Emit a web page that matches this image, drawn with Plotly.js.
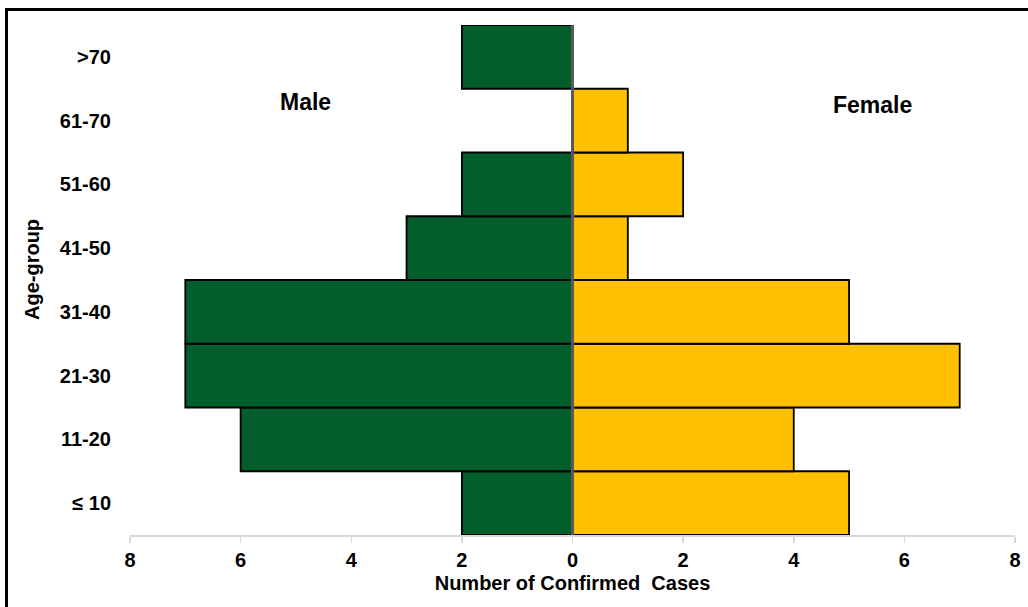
<!DOCTYPE html>
<html>
<head>
<meta charset="utf-8">
<script src="https://cdn.plot.ly/plotly-3.0.1.min.js"></script>
<style>
html,body{margin:0;padding:0;background:#fff;}
#chart{width:1028px;height:607px;}
#frame{position:absolute;left:5px;top:8px;width:1100px;height:700px;border-top:3px solid #000;border-left:3px solid #000;pointer-events:none;}
</style>
</head>
<body>
<div id="chart"></div>
<div id="frame"></div>
<script>
const ageGroups = ["≤ 10", "11-20", "21-30", "31-40", "41-50", "51-60", "61-70", ">70"];
const maleCases = [2, 6, 7, 7, 3, 2, 0, 2];
const femaleCases = [5, 4, 7, 5, 1, 2, 1, 0];
const tickValues = [-8, -6, -4, -2, 0, 2, 4, 6, 8];
const tickLabels = ["8", "6", "4", "2", "0", "2", "4", "6", "8"];

const FONT = "Liberation Sans, Arial, sans-serif";

const traces = [
  {
    type: "bar", orientation: "h", name: "Male",
    y: ageGroups, x: maleCases.map(v => -v),
    marker: {color: "#025E2B", line: {color: "#000", width: 1.8}},
    hoverinfo: "skip"
  },
  {
    type: "bar", orientation: "h", name: "Female",
    y: ageGroups, x: femaleCases,
    marker: {color: "#FFC000", line: {color: "#000", width: 1.8}},
    hoverinfo: "skip"
  }
];

const layout = {
  width: 1028, height: 607,
  margin: {l: 130, r: 13, t: 25, b: 72},
  paper_bgcolor: "#fff", plot_bgcolor: "#fff",
  showlegend: false,
  barmode: "relative", bargap: 0,
  font: {family: FONT, color: "#000"},
  xaxis: {
    range: [-8, 8], tickvals: tickValues, ticktext: tickLabels,
    showgrid: false, zeroline: false,
    showline: true, linecolor: "#d9d9d9", linewidth: 2,
    ticks: "outside", ticklen: 6, tickcolor: "#d9d9d9", tickwidth: 1.5,
    tickfont: {size: 20, family: FONT, weight: "bold"},
    title: {text: "Number of Confirmed  Cases", font: {size: 20, family: FONT, weight: "bold"}, standoff: 6}
  },
  yaxis: {
    type: "category", categoryorder: "array", categoryarray: ageGroups,
    showgrid: false, zeroline: false, showline: false,
    ticks: "outside", ticklen: 14, tickcolor: "rgba(0,0,0,0)",
    tickfont: {size: 20, family: FONT, weight: "bold"}
  },
  shapes: [
    {type: "line", xref: "x", yref: "paper", x0: 0, x1: 0, y0: 0, y1: 1,
     line: {color: "#595959", width: 3}, layer: "above"}
  ],
  annotations: [
    {text: "Age-group", xref: "paper", yref: "paper", x: -0.1107, y: 0.5196,
     xanchor: "center", yanchor: "middle", textangle: -90, showarrow: false,
     font: {size: 20, family: FONT, weight: "bold"}},
    {text: "Male", x: -4.82, y: 6.3, xref: "x", yref: "y", showarrow: false,
     font: {size: 23, family: FONT, weight: "bold"}},
    {text: "Female", x: 5.42, y: 6.24, xref: "x", yref: "y", showarrow: false,
     font: {size: 23, family: FONT, weight: "bold"}}
  ]
};

Plotly.newPlot("chart", traces, layout, {displayModeBar: false, staticPlot: true});
</script>
</body>
</html>
